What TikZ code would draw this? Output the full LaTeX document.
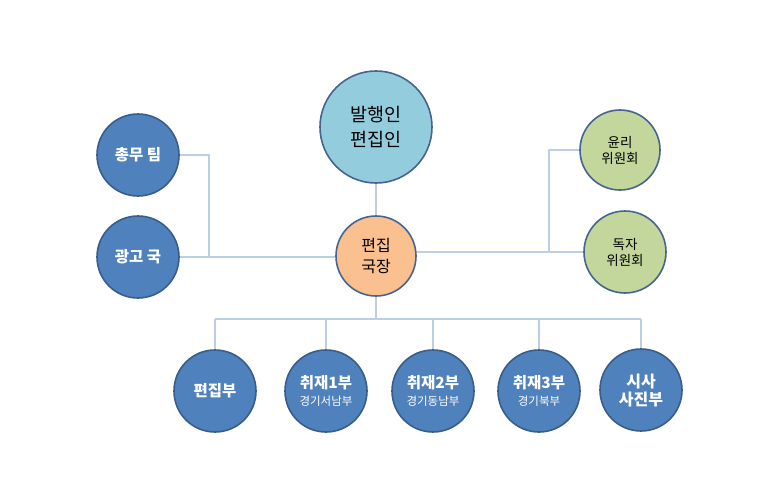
\documentclass[tikz,border=0pt]{standalone}
\usepackage{fontspec}
\setmainfont{Noto Sans CJK KR}
\newfontfamily\kr{Noto Sans CJK KR}
\newcommand\subtxt[1]{{\kr\mdseries\fontsize{11.5}{13}\selectfont #1}}
\definecolor{lineblue}{HTML}{BCCFE6}
\definecolor{bluefill}{HTML}{4F81BD}
\definecolor{blueedge}{HTML}{385D8A}
\definecolor{topfill}{HTML}{93CDDD}
\definecolor{topedge}{HTML}{46648F}
\definecolor{orangefill}{HTML}{FAC090}
\definecolor{greenfill}{HTML}{C3D69B}
\begin{document}
\begin{tikzpicture}[x=1pt,y=-1pt,
  orgcircle/.style={circle,draw=topedge,line width=1.6pt,inner sep=0pt,align=center},
  bluecirc/.style={orgcircle,fill=bluefill,draw=blueedge,minimum size=82pt,text=white,font=\kr\bfseries\fontsize{15.5}{18}\selectfont},
  conn/.style={draw=lineblue,line width=1.8pt}]
\useasboundingbox (0,0) rectangle (780,501);
\fill[white] (0,0) rectangle (780,501);
% connector corner points
\coordinate (lv1) at (209,155);
\coordinate (lv2) at (209,257);
\coordinate (rv1) at (549,150);
\coordinate (rv2) at (549,252);
\coordinate (bm) at (376,319);
\coordinate (b1) at (215,319);
\coordinate (b2) at (326,319);
\coordinate (b3) at (433,319);
\coordinate (b4) at (539,319);
\coordinate (b5) at (641,319);
% nodes
\node[orgcircle,fill=topfill,minimum size=112pt,font=\kr\fontsize{18.5}{25}\selectfont] (pub) at (376,127) {발행인\\편집인};
\node[orgcircle,fill=orangefill,minimum size=80pt,font=\kr\fontsize{16}{21}\selectfont] (chief) at (376,256) {편집\\국장};
\node[bluecirc] (gen) at (138,155) {총무 팀};
\node[bluecirc] (adv) at (138,257) {광고 국};
\node[orgcircle,fill=greenfill,minimum size=80pt,font=\kr\fontsize{13.5}{16}\selectfont] (eth) at (620,150) {윤리\\위원회};
\node[orgcircle,fill=greenfill,minimum size=82pt,font=\kr\fontsize{13.5}{16}\selectfont] (read) at (625,252) {독자\\위원회};
\node[bluecirc] (d1) at (215,391) {편집부};
\node[bluecirc] (d2) at (326,391) {취재1부\\[-1pt]\subtxt{경기서남부}};
\node[bluecirc] (d3) at (433,391) {취재2부\\[-1pt]\subtxt{경기동남부}};
\node[bluecirc] (d4) at (539,391) {취재3부\\[-1pt]\subtxt{경기북부}};
\node[bluecirc,font=\kr\bfseries\fontsize{16}{18}\selectfont] (d5) at (641,390) {시사\\사진부};
% connectors
\draw[conn] (pub) -- (chief);
\draw[conn] (adv.east) -- (chief.west |- adv.east);
\draw[conn] (gen.east) -- (lv1) -- (lv2);
\draw[conn] (chief.east |- read.west) -- (read.west);
\draw[conn] (eth.west) -- (rv1) -- (rv2);
\draw[conn] (chief.south) -- (bm);
\draw[conn] (b1) -- (b5);
\draw[conn] (b1) -- (d1.north);
\draw[conn] (b2) -- (d2.north);
\draw[conn] (b3) -- (d3.north);
\draw[conn] (b4) -- (d4.north);
\draw[conn] (b5) -- (d5.north);
\end{tikzpicture}
\end{document}
